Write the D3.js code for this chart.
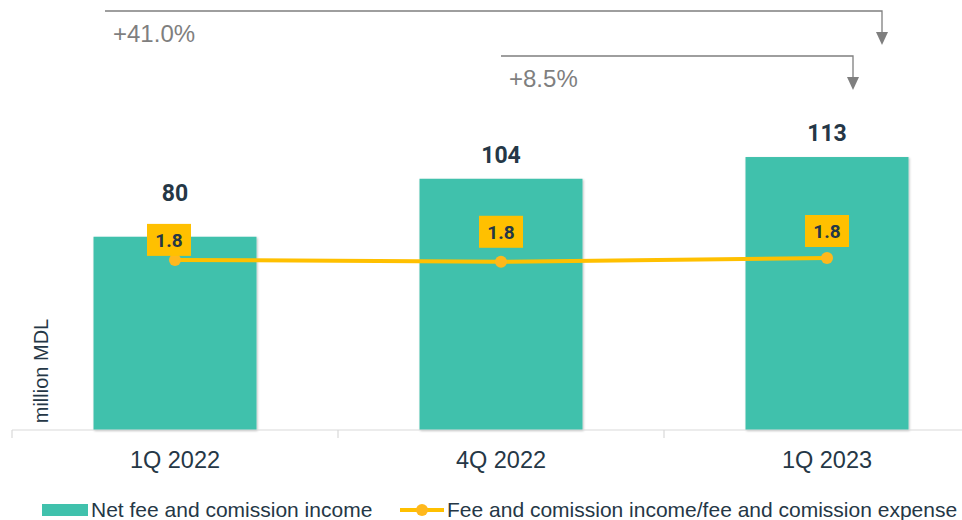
<!DOCTYPE html>
<html>
<head>
<meta charset="utf-8">
<script src="https://cdn.jsdelivr.net/npm/d3@7"></script>
<style>
  body { margin: 0; background: #fff; }
  svg { display: block; }
</style>
</head>
<body>
<div id="chart"></div>
<script>
const categories = ['1Q 2022', '4Q 2022', '1Q 2023'];
const netFeeIncome = [80, 104, 113];
const feeRatio = [1.80, 1.78, 1.82];
const growthLabels = ['+41.0%', '+8.5%'];
const growthFrom = ['1Q 2022', '4Q 2022'];
const growthTo = ['1Q 2023', '1Q 2023'];
const legendLabels = ['Net fee and comission income', 'Fee and comission income/fee and comission expense'];

const svgWidth = 962, svgHeight = 520;
const baseY = 430;

const teal = '#40C1AC', gold = '#FFC000', dark = '#253746', grey = '#7F7F7F';
const plainFont = '"Liberation Sans", Arial, sans-serif';

const svg = d3.select('#chart').append('svg')
  .attr('width', svgWidth)
  .attr('height', svgHeight)
  .style('font-family', 'Roboto, "Liberation Sans", Arial, sans-serif');

const defs = svg.append('defs');
const shadow = defs.append('filter').attr('id', 'shadow')
  .attr('x', '-5%').attr('y', '-5%').attr('width', '115%').attr('height', '115%');
shadow.append('feDropShadow')
  .attr('dx', 1).attr('dy', 1).attr('stdDeviation', 1.2)
  .attr('flood-color', '#000').attr('flood-opacity', 0.25);

// scales
const x = d3.scaleBand()
  .domain(categories)
  .range([12, 990])
  .paddingInner(0.5)
  .paddingOuter(0.25);
const step = x.step();
const cx = d => x(d) + x.bandwidth() / 2;

const y = d3.scaleLinear().domain([0, 178]).range([baseY, 0]);
const y2 = d3.scaleLinear().domain([0, 4.55]).range([baseY, 0]);

// bars
svg.append('g')
  .selectAll('rect')
  .data(categories)
  .enter()
  .append('rect')
  .attr('x', d => x(d))
  .attr('y', (d, i) => y(netFeeIncome[i]))
  .attr('width', x.bandwidth())
  .attr('height', (d, i) => baseY - y(netFeeIncome[i]))
  .attr('fill', teal)
  .attr('filter', 'url(#shadow)');

// bar value labels (first one lifted over the ratio box)
const barLabelLift = [36, 16, 16];
svg.append('g')
  .selectAll('text')
  .data(categories)
  .enter()
  .append('text')
  .attr('x', d => cx(d))
  .attr('y', (d, i) => y(netFeeIncome[i]) - barLabelLift[i])
  .attr('text-anchor', 'middle')
  .attr('font-size', 23)
  .attr('font-weight', 700)
  .attr('fill', dark)
  .text((d, i) => netFeeIncome[i]);

// x axis
const xAxis = d3.axisBottom(x).tickSize(0).tickPadding(21);
const gx = svg.append('g')
  .attr('transform', `translate(0,${baseY})`)
  .call(xAxis);
gx.select('.domain').remove();
gx.selectAll('text')
  .attr('font-size', 23.5)
  .attr('fill', dark)
  .attr('font-family', plainFont);
gx.append('line')
  .attr('x1', 12).attr('x2', svgWidth)
  .attr('stroke', '#D9D9D9').attr('stroke-width', 1.2);
gx.selectAll('.sep')
  .data(categories)
  .enter()
  .append('line')
  .attr('class', 'sep')
  .attr('x1', d => x(d) - step * 0.25)
  .attr('x2', d => x(d) - step * 0.25)
  .attr('y1', 0).attr('y2', 8)
  .attr('stroke', '#D9D9D9').attr('stroke-width', 1.2);

// y label
svg.append('text')
  .attr('transform', 'translate(48,371) rotate(-90)')
  .attr('text-anchor', 'middle')
  .attr('font-size', 20)
  .attr('fill', dark)
  .attr('font-family', plainFont)
  .text('million MDL');

// ratio line
const line = d3.line()
  .x((d, i) => cx(categories[i]))
  .y(d => y2(d));
svg.append('path')
  .datum(feeRatio)
  .attr('d', line)
  .attr('fill', 'none')
  .attr('stroke', gold)
  .attr('stroke-width', 4);
svg.append('g')
  .selectAll('circle')
  .data(feeRatio)
  .enter()
  .append('circle')
  .attr('cx', (d, i) => cx(categories[i]))
  .attr('cy', d => y2(d))
  .attr('r', 6)
  .attr('fill', '#FFB81C');

// ratio labels
const boxW = 44, boxH = 32;
const boxShift = [[-6, -4], [0, -14], [0, -11]];
const lbl = svg.append('g')
  .selectAll('g')
  .data(feeRatio)
  .enter()
  .append('g')
  .attr('transform', (d, i) => `translate(${cx(categories[i]) + boxShift[i][0]},${y2(d) + boxShift[i][1] - boxH})`);
lbl.append('rect')
  .attr('x', -boxW / 2)
  .attr('width', boxW)
  .attr('height', boxH)
  .attr('fill', gold);
lbl.append('text')
  .attr('y', boxH / 2 + 7)
  .attr('text-anchor', 'middle')
  .attr('font-size', 19)
  .attr('font-weight', 700)
  .attr('fill', dark)
  .text(d => d3.format('.1f')(d));

// growth arrows
const arrowLevels = [11, 56];
const arrowStart = [-70, 0];
const arrowEnd = [55, 26];
growthLabels.forEach((label, i) => {
  const x1 = cx(growthFrom[i]) + arrowStart[i];
  const x2 = cx(growthTo[i]) + arrowEnd[i];
  const yy = arrowLevels[i];
  const g = svg.append('g');
  g.append('path')
    .attr('d', `M${x1},${yy}H${x2}V${yy + 22}`)
    .attr('fill', 'none')
    .attr('stroke', grey)
    .attr('stroke-width', 1.3);
  g.append('path')
    .attr('d', `M${x2 - 6},${yy + 21}L${x2 + 6},${yy + 21}L${x2},${yy + 34}Z`)
    .attr('fill', grey);
  g.append('text')
    .attr('x', x1 + 8)
    .attr('y', yy + 31)
    .attr('font-size', 24)
    .attr('fill', grey)
    .attr('font-family', plainFont)
    .text(label);
});

// legend
const legend = svg.append('g').attr('transform', 'translate(0,510)');
legend.append('rect')
  .attr('x', 42).attr('y', -6)
  .attr('width', 46).attr('height', 12)
  .attr('fill', teal);
legend.append('text')
  .attr('x', 91).attr('y', 7)
  .attr('font-size', 21)
  .attr('fill', dark)
  .attr('font-family', plainFont)
  .text(legendLabels[0]);
legend.append('line')
  .attr('x1', 400).attr('x2', 444)
  .attr('stroke', gold).attr('stroke-width', 4);
legend.append('circle')
  .attr('cx', 422).attr('r', 6)
  .attr('fill', '#FFB81C');
legend.append('text')
  .attr('x', 447).attr('y', 7)
  .attr('font-size', 21)
  .attr('fill', dark)
  .attr('font-family', plainFont)
  .text(legendLabels[1]);
</script>
</body>
</html>
